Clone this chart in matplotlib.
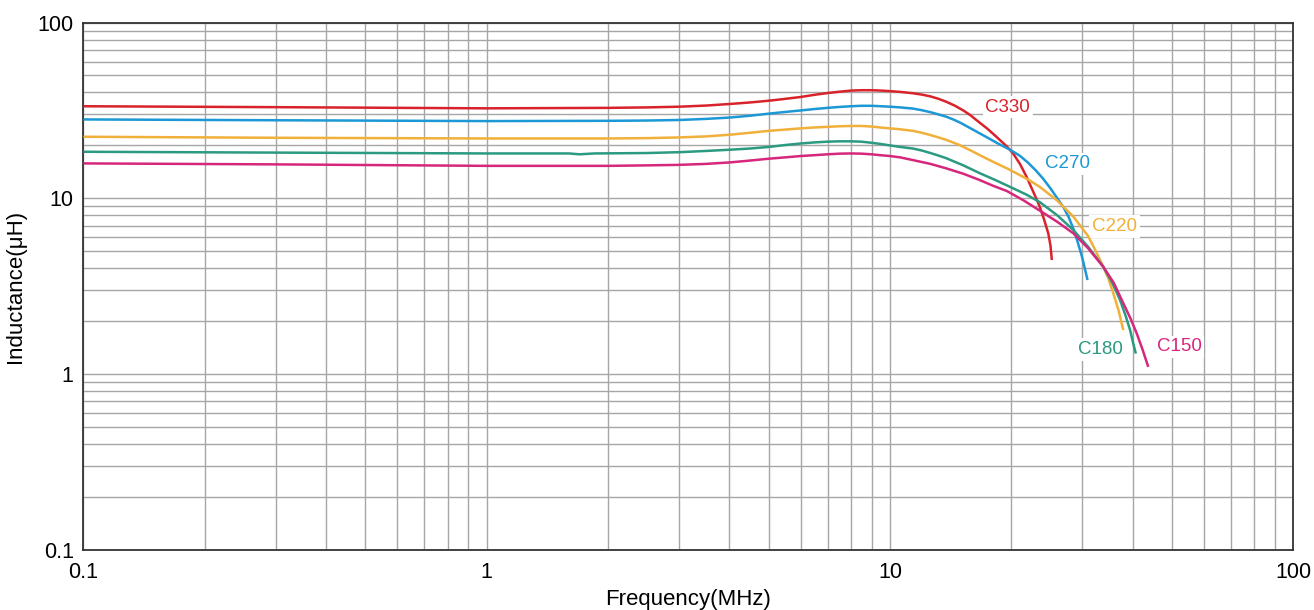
import matplotlib
matplotlib.use("Agg")
import matplotlib.pyplot as plt
from matplotlib.ticker import FixedLocator, FixedFormatter, LogLocator, NullFormatter

plt.rcParams['font.family'] = ['Liberation Sans', 'DejaVu Sans']

# values (frequency in MHz, inductance in uH)
f_c330 = [0.1, 0.3, 1.0, 2.0, 2.5, 3.0, 3.5, 4.0, 4.5, 5.0, 5.5, 6.0, 6.5, 7.0, 7.5, 8.0, 8.5, 9.0,
          9.5, 10.0, 10.6, 11.4, 12.0, 12.6, 13.2, 13.8, 14.5, 15.2, 15.8, 16.6, 17.4, 18.4, 19.5,
          20.2, 21.0, 21.8, 22.5, 23.0, 23.5, 24.1, 24.7, 25.0, 25.2]
l_c330 = [33.4, 33.0, 32.5, 32.7, 32.9, 33.2, 33.7, 34.4, 35.1, 35.9, 36.8, 37.7, 38.8, 39.7, 40.4,
          41.0, 41.2, 41.2, 41.0, 40.7, 40.3, 39.6, 38.9, 38.0, 36.8, 35.4, 33.6, 31.6, 29.8, 27.2,
          25.0, 22.3, 19.7, 18.0, 15.7, 13.3, 11.3, 10.1, 9.0, 7.6, 6.3, 5.4, 4.46]

f_c270 = [0.1, 0.3, 1.0, 2.0, 2.5, 3.0, 3.5, 4.0, 4.5, 5.0, 5.5, 6.0, 6.5, 7.0, 7.5, 8.0, 8.5, 9.0,
          9.5, 10.0, 10.6, 11.4, 12.0, 12.6, 13.2, 13.8, 14.4, 15.0, 15.8, 16.7, 17.6, 18.6, 19.85,
          21.0, 22.0, 23.0, 24.0, 25.0, 26.0, 26.9, 27.7, 28.5, 29.2, 29.9, 30.4, 30.9]
l_c270 = [28.1, 27.8, 27.5, 27.6, 27.7, 27.9, 28.3, 28.8, 29.5, 30.3, 31.0, 31.6, 32.2, 32.7, 33.1,
          33.4, 33.6, 33.6, 33.4, 33.2, 32.9, 32.4, 31.7, 30.9, 30.0, 29.1, 28.0, 26.8, 25.1, 23.4,
          21.9, 20.4, 18.9, 17.45, 15.95, 14.4, 12.9, 11.4, 10.0, 8.93, 7.88, 6.7, 5.65, 4.7,
          4.02, 3.43]

f_c220 = [0.1, 0.3, 1.0, 2.0, 2.5, 3.0, 3.5, 4.0, 4.5, 5.0, 5.5, 6.0, 6.5, 7.0, 7.5, 8.0, 8.5, 9.0,
          9.45, 10.0, 10.6, 11.4, 12.0, 12.6, 13.2, 13.8, 14.8, 15.8, 16.7, 18.0, 19.45, 20.2, 22.0,
          23.55, 26.0, 28.5, 31.0, 32.4, 33.8, 34.8, 35.8, 36.9, 37.9]
l_c220 = [22.4, 22.1, 21.9, 21.9, 22.0, 22.2, 22.5, 23.0, 23.6, 24.2, 24.6, 25.0, 25.3, 25.5, 25.7,
          25.8, 25.8, 25.6, 25.3, 25.0, 24.7, 24.2, 23.6, 22.9, 22.2, 21.5, 20.2, 18.8, 17.6, 16.15,
          14.85, 14.2, 12.8, 11.6, 9.7, 7.86, 6.1, 5.0, 4.08, 3.5, 2.88, 2.3, 1.78]

f_c180 = [0.1, 0.3, 1.0, 1.6, 1.7, 1.85, 2.5, 3.0, 3.5, 4.0, 4.5, 5.0, 5.5, 6.0, 6.5, 7.0, 7.5, 8.0,
          8.5, 9.0, 9.45, 10.0, 10.6, 11.4, 12.0, 12.6, 13.2, 13.8, 15.2, 16.7, 18.4, 20.2, 21.8,
          23.55, 26.0, 28.5, 31.0, 33.8, 35.6, 37.2, 38.4, 39.4, 40.1, 40.7]
l_c180 = [18.4, 18.2, 18.0, 18.0, 17.8, 18.0, 18.1, 18.3, 18.6, 18.9, 19.2, 19.6, 20.1, 20.5, 20.8,
          21.0, 21.1, 21.1, 21.0, 20.7, 20.4, 20.0, 19.6, 19.2, 18.7, 18.1, 17.5, 16.9, 15.4, 13.9,
          12.6, 11.4, 10.5, 9.5, 8.0, 6.6, 5.3, 4.08, 3.3, 2.64, 2.15, 1.78, 1.5, 1.31]

f_c150 = [0.1, 0.3, 1.0, 2.0, 2.5, 3.0, 3.5, 4.0, 4.5, 5.0, 5.5, 6.0, 6.5, 7.0, 7.5, 8.0, 8.5, 9.0,
          9.45, 10.0, 10.6, 11.4, 12.6, 13.8, 15.2, 16.7, 18.0, 19.5, 21.5, 23.55, 26.0, 28.5, 31.0,
          33.8, 35.9, 37.9, 39.5, 40.9, 42.3, 43.7]
l_c150 = [15.8, 15.6, 15.3, 15.3, 15.4, 15.5, 15.7, 16.0, 16.4, 16.8, 17.1, 17.4, 17.6, 17.8, 17.95,
          18.0, 17.95, 17.8, 17.6, 17.4, 17.1, 16.5, 15.7, 14.8, 13.8, 12.7, 11.8, 11.0, 9.7, 8.5,
          7.35, 6.32, 5.2, 4.08, 3.3, 2.53, 2.07, 1.71, 1.38, 1.10]

names = ['C330', 'C270', 'C220', 'C180', 'C150']
colors = ['#d9232b', '#1b98d5', '#f0b03a', '#2b9a80', '#d7277d']
label_f = [19.6, 27.5, 36.1, 33.3, 52.1]
label_l = [33.0, 15.7, 6.93, 1.385, 1.43]

x_ticks = [0.1, 1, 10, 100]
x_tick_labels = ['0.1', '1', '10', '100']
y_ticks = [0.1, 1, 10, 100]
y_tick_labels = ['0.1', '1', '10', '100']

fig = plt.figure(figsize=(13.14, 6.10), dpi=100)
ax = fig.add_axes([0.0635, 0.0984, 0.9207, 0.8647])

series = [(f_c330, l_c330), (f_c270, l_c270), (f_c220, l_c220), (f_c180, l_c180), (f_c150, l_c150)]
for (fx, ly), c in zip(series, colors):
    ax.plot(fx, ly, color=c, lw=1.8, solid_capstyle='butt', solid_joinstyle='round', zorder=4)

for name, c, fx, ly in zip(names, colors, label_f, label_l):
    ax.text(fx, ly, name, color=c, fontsize=13.5, ha='center', va='center', zorder=3,
            bbox=dict(facecolor='white', edgecolor='none', pad=2))

ax.set_xscale('log')
ax.set_yscale('log')
ax.set_xlim(0.1, 100)
ax.set_ylim(0.1, 100)

ax.xaxis.set_major_locator(FixedLocator(x_ticks))
ax.xaxis.set_major_formatter(FixedFormatter(x_tick_labels))
ax.yaxis.set_major_locator(FixedLocator(y_ticks))
ax.yaxis.set_major_formatter(FixedFormatter(y_tick_labels))
ax.xaxis.set_minor_locator(LogLocator(base=10, subs=range(2, 10), numticks=20))
ax.yaxis.set_minor_locator(LogLocator(base=10, subs=range(2, 10), numticks=20))
ax.xaxis.set_minor_formatter(NullFormatter())
ax.yaxis.set_minor_formatter(NullFormatter())

ax.grid(True, which='both', color='#a6a6a6', lw=1.0)
ax.set_axisbelow(True)
ax.tick_params(which='both', length=0)
ax.tick_params(axis='x', labelsize=15.5, pad=9)
ax.tick_params(axis='y', labelsize=15.5, pad=7)

for s in ax.spines.values():
    s.set_color('#333333')
    s.set_linewidth(1.3)

ax.set_xlabel('Frequency(MHz)', fontsize=16, labelpad=4)
ax.set_ylabel('Inductance(μH)', fontsize=16, labelpad=8)

fig.savefig('out.png', dpi=100)
